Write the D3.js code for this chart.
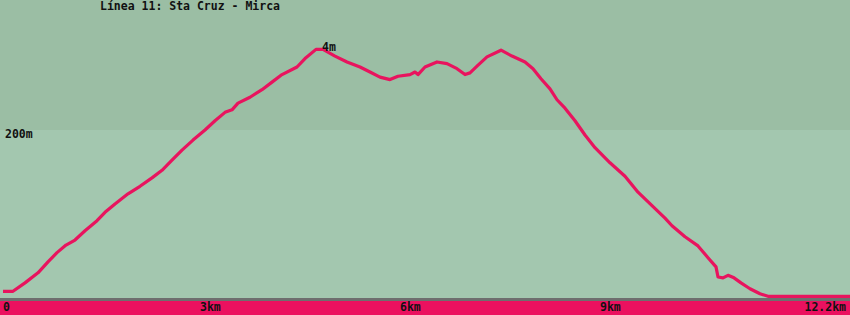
<!DOCTYPE html>
<html><head><meta charset="utf-8">
<script src="https://cdn.jsdelivr.net/npm/d3@7"></script>
<style>html,body{margin:0;padding:0;background:#a3c7af;}svg{display:block;}
text{font-family:"DejaVu Sans Mono",monospace;font-weight:bold;font-size:11.5px;fill:#111;}</style>
</head><body><svg id="c" width="850" height="315"></svg>
<script>
const title = "Línea 11: Sta Cruz - Mirca";
const distKm = [0.045,0.195,0.375,0.57,0.72,0.855,0.99,1.125,1.275,1.455,1.575,1.725,1.92,2.1,2.28,2.43,2.58,2.73,2.895,3.075,3.225,3.375,3.48,3.57,3.75,3.93,4.08,4.23,4.455,4.575,4.74,4.845,5.025,5.205,5.4,5.55,5.7,5.85,5.97,6.15,6.225,6.27,6.375,6.555,6.705,6.855,6.975,7.05,7.155,7.305,7.515,7.68,7.875,7.995,8.115,8.25,8.355,8.475,8.625,8.775,8.925,9.15,9.375,9.57,9.78,9.975,10.08,10.275,10.47,10.62,10.74,10.77,10.845,10.92,11.01,11.115,11.25,11.4,11.52,12.75];
const elevM = [8,8,18,30,43,54,63,69,80,92,102,112,124,133,143,152,164,176,188,200,211,221,224,232,239,248,257,266,275,285,296,296,288,281,275,269,263,260,264,266,269,266,275,281,279,273,266,268,276,287,295,288,281,273,261,249,236,226,211,194,179,161,145,126,110,95,86,73,62,48,37,25,24,27,24,18,11,5,2,2];
const xTicks = [0,3,6,9,12.2];
const xTickLabels = ["0","3km","6km","9km","12.2km"];
const yTicks = [200];
const yTickLabels = ["200m"];
const peakLabel = "4m";

const W = 850, H = 315;
const svg = d3.select("#c");
const x = d3.scaleLinear().domain([0, 12.75]).range([0, 850]);
const y = d3.scaleLinear().domain([0, 200]).range([298, 130]);

svg.append("rect").attr("x",0).attr("y",0).attr("width",W).attr("height",y(200)).attr("fill","#9bbea4");
svg.append("rect").attr("x",0).attr("y",y(200)).attr("width",W).attr("height",y(0)-y(200)).attr("fill","#a3c7af");
svg.append("rect").attr("x",0).attr("y",y(0)).attr("width",W).attr("height",3).attr("fill","#6e6e6e");
svg.append("rect").attr("x",0).attr("y",y(0)+3).attr("width",W).attr("height",H-y(0)-3).attr("fill","#eb115f");

const line = d3.line().x((d,i)=>x(distKm[i])).y(d=>y(d));
svg.append("path").datum(elevM).attr("d",line).attr("fill","none")
  .attr("stroke","#e8145e").attr("stroke-width",3.2).attr("stroke-linejoin","round");

svg.selectAll(".yt").data(yTicks).enter().append("text").attr("class","yt")
  .attr("x",5).attr("y",d=>y(d)+8).text((d,i)=>yTickLabels[i]);

svg.selectAll(".xt").data(xTicks).enter().append("text").attr("class","xt")
  .attr("x",(d,i)=> i===xTicks.length-1 ? 846 : Math.max(3, x(d)))
  .attr("text-anchor",(d,i)=> i===xTicks.length-1 ? "end" : "start")
  .attr("y",311).text((d,i)=>xTickLabels[i]);

const peakIdx = d3.maxIndex(elevM);
svg.append("text").attr("x",x(distKm[peakIdx])+6).attr("y",y(elevM[peakIdx])+2).text(peakLabel);

svg.append("text").attr("x",100).attr("y",10).text(title);
</script></body></html>
